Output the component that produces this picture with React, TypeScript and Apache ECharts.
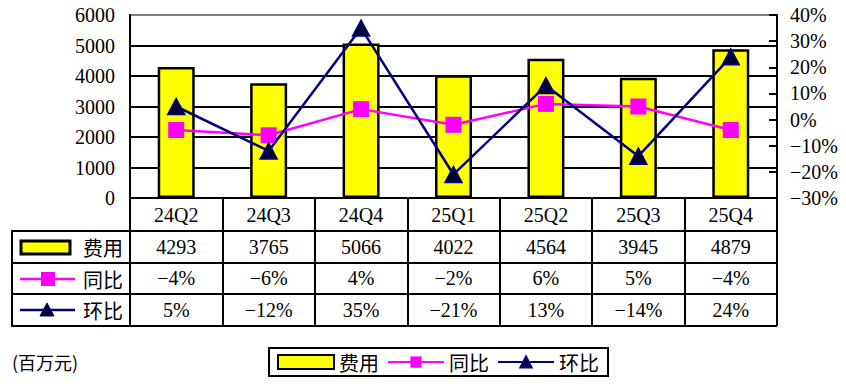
import React, { useEffect, useRef } from "react";
import * as echarts from "echarts";

const categories = ["24Q2", "24Q3", "24Q4", "25Q1", "25Q2", "25Q3", "25Q4"];
const expense = [4293, 3765, 5066, 4022, 4564, 3945, 4879];
const yoy = [-4, -6, 4, -2, 6, 5, -4];
const qoq = [5, -12, 35, -21, 13, -14, 24];
const seriesNames = ["费用", "同比", "环比"];
const unitLabel = "(百万元)";

const SERIF = "'Liberation Serif', 'Times New Roman', serif";
const CJK = "'Noto Sans CJK SC', sans-serif";

const pct = (v: number) => `${v < 0 ? "\u2212" : ""}${Math.abs(v)}%`;

export default function App() {
  const ref = useRef<HTMLDivElement>(null);
  useEffect(() => {
    if (!ref.current) return;
    const chart = echarts.init(ref.current, null, { renderer: "svg" });
    const labelBase = {
      fontFamily: SERIF,
      fontSize: 20,
      color: "#000",
      interval: 0,
      verticalAlign: "middle" as const,
    };
    const rowAxis = (data: string[], margin: number) => ({
      type: "category",
      data,
      position: "bottom",
      axisLine: { show: false },
      axisTick: { show: false },
      splitLine: { show: false },
      axisLabel: { ...labelBase, margin },
    });
    const black = "#000";
    const lineEl = (x1: number, y1: number, x2: number, y2: number, stroke = black, lineWidth = 2) => ({
      type: "line",
      shape: { x1, y1, x2, y2 },
      style: { stroke, lineWidth },
      silent: true,
    });
    const cjkText = (text: string, x: number, y: number, size = 20) => ({
      type: "text",
      x,
      y,
      style: { text, fill: black, font: `${size}px ${CJK}`, verticalAlign: "middle" },
    });
    chart.setOption({
      animation: false,
      grid: { left: 130, top: 15, width: 647, height: 183, containLabel: false },
      xAxis: [
        {
          type: "category",
          data: categories,
          position: "bottom",
          axisLine: { lineStyle: { color: black, width: 2 } },
          axisTick: { show: true, length: 128, interval: 0, lineStyle: { color: black, width: 2 } },
          axisLabel: { ...labelBase, margin: 17 },
        },
        rowAxis(expense.map(String), 49),
        rowAxis(yoy.map(pct), 80),
        rowAxis(qoq.map(pct), 112),
      ],
      yAxis: [
        {
          type: "value",
          min: 0,
          max: 6000,
          interval: 1000,
          axisLine: { show: true, lineStyle: { color: black, width: 2 } },
          axisTick: { show: false },
          axisLabel: {
            fontFamily: SERIF,
            fontSize: 20,
            color: black,
            margin: 15,
            formatter: (v: number) => String(v),
          },
          splitLine: {
            show: true,
            lineStyle: {
              color: [black, black, black, black, black, black, "#808080"],
              width: 2,
            },
          },
        },
        {
          type: "value",
          min: -30,
          max: 40,
          interval: 10,
          position: "right",
          axisLine: { show: true, lineStyle: { color: black, width: 2 } },
          axisTick: { show: true, inside: true, length: 8, lineStyle: { color: black, width: 2 } },
          axisLabel: { fontFamily: SERIF, fontSize: 20, color: black, margin: 13, formatter: (v: number) => pct(v) },
          splitLine: { show: false },
        },
      ],
      legend: {
        data: [{ name: seriesNames[0], icon: "rect" }, { name: seriesNames[1] }, { name: seriesNames[2] }],
        left: 269,
        top: 348,
        orient: "horizontal",
        padding: [4, 9, 4, 8],
        itemWidth: 56,
        itemHeight: 14,
        itemGap: 8,
        borderColor: black,
        borderWidth: 2,
        textStyle: { fontFamily: CJK, fontSize: 20, color: black },
      },
      series: [
        {
          name: seriesNames[0],
          type: "bar",
          data: expense,
          barWidth: 37,
          itemStyle: { color: "#FFFF00", borderColor: black, borderWidth: 2.5 },
          z: 2,
        },
        {
          name: seriesNames[1],
          type: "line",
          yAxisIndex: 1,
          data: yoy,
          symbol: "rect",
          symbolSize: 16,
          lineStyle: { color: "#FF00FF", width: 2.5 },
          itemStyle: { color: "#FF00FF" },
          z: 3,
        },
        {
          name: seriesNames[2],
          type: "line",
          yAxisIndex: 1,
          data: qoq,
          symbol: "triangle",
          symbolSize: [17, 16],
          lineStyle: { color: "#000080", width: 2.5 },
          itemStyle: { color: "#000033", borderColor: "#000080", borderWidth: 1.5 },
          z: 4,
        },
      ],
      graphic: [
        lineEl(12, 231, 777, 231),
        lineEl(12, 263, 777, 263),
        lineEl(12, 294, 777, 294),
        lineEl(12, 326, 777, 326),
        lineEl(12, 230, 12, 327),
        {
          type: "rect",
          shape: { x: 21, y: 241, width: 49, height: 13 },
          style: { fill: "#FFFF00", stroke: black, lineWidth: 3 },
        },
        cjkText(seriesNames[0], 83, 247),
        lineEl(20, 279, 75, 279, "#FF00FF", 2.5),
        {
          type: "rect",
          shape: { x: 41, y: 272, width: 14, height: 14 },
          style: { fill: "#FF00FF" },
        },
        cjkText(seriesNames[1], 83, 279),
        lineEl(20, 310, 75, 310, "#000080", 2.5),
        {
          type: "polygon",
          shape: { points: [[47, 303], [40, 316], [54, 316]] },
          style: { fill: "#000033", stroke: "#000080", lineWidth: 1 },
        },
        cjkText(seriesNames[2], 83, 310),
        cjkText(unitLabel, 12, 362, 18),
      ],
    });
    return () => chart.dispose();
  }, []);
  return (
    <div
      ref={ref}
      style={{ position: "fixed", left: 0, top: 0, width: 846, height: 392, background: "#fff" }}
    />
  );
}
